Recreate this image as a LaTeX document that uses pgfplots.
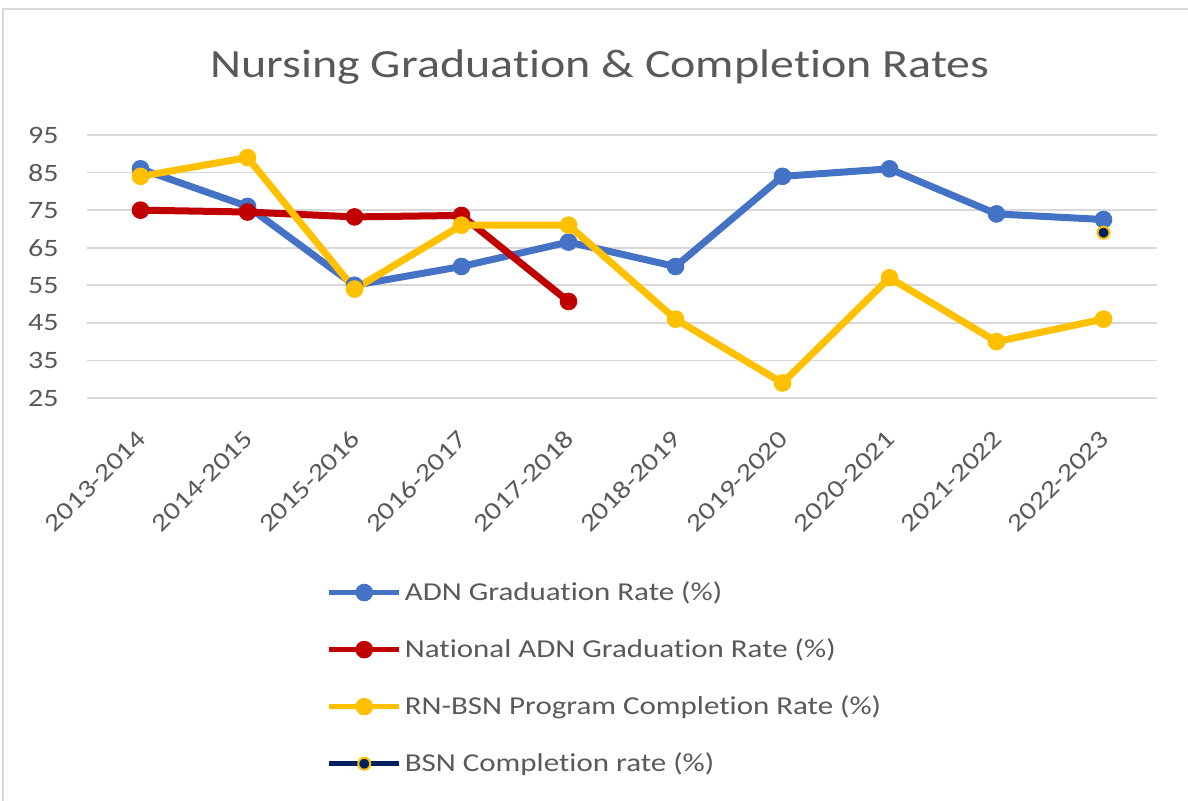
\documentclass[border=0pt]{standalone}
\usepackage{fontspec}
\setmainfont{Carlito}[FakeStretch=1.2, Ligatures=NoCommon]
\usepackage{pgfplots}
\pgfplotsset{compat=1.18}
\definecolor{adnblue}{HTML}{4472C4}
\definecolor{natred}{HTML}{C00000}
\definecolor{rnyellow}{HTML}{FFC000}
\definecolor{bsnnavy}{HTML}{002060}
\definecolor{txtgray}{HTML}{595959}
\definecolor{gridgray}{HTML}{D9D9D9}

\begin{document}
\begin{tikzpicture}
% page = 1188 x 801 px at 0.5pt per px
\useasboundingbox (0pt,0pt) rectangle (594pt,-400.5pt);
\draw[gridgray, line width=1.2pt] (1.5pt,-401pt) -- (1.5pt,-4.5pt) -- (595pt,-4.5pt);
\node[text=txtgray, font=\fontsize{20}{24}\selectfont] at (300pt,-33.5pt) {Nursing Graduation \& Completion Rates};
\begin{axis}[
  at={(43.5pt,-199pt)}, anchor=south west,
  scale only axis, width=535pt, height=131.5pt,
  xmin=-0.5, xmax=9.5, ymin=25, ymax=95,
  xtick={0,...,9},
  xticklabels={2013-2014,2014-2015,2015-2016,2016-2017,2017-2018,2018-2019,2019-2020,2020-2021,2021-2022,2022-2023},
  ytick={25,35,...,95},
  axis line style={draw=none},
  major tick length=0pt,
  ymajorgrids, grid style={gridgray, line width=0.9pt},
  tick label style={text=txtgray, font=\fontsize{12.5}{15}\selectfont},
  /pgf/number format/assume math mode=true,
  xticklabel style={rotate=45, anchor=east, inner sep=0pt, xshift=1pt},
  xticklabel shift=19pt,
  yticklabel style={inner sep=0pt},
  yticklabel shift=14pt,
  clip=false,
  legend style={at={(0.218,-0.670)}, anchor=north west, draw=none, fill=none,
    font=\fontsize{12.9}{15}\selectfont, text=txtgray,
    row sep=14.6pt, nodes={inner sep=1.5pt}, legend cell align=left},
  legend image code/.code={\draw[mark repeat=2, mark phase=2, #1, line width=2.6pt]
     plot coordinates {(0pt,0pt)(17.5pt,0pt)(35pt,0pt)};},
]
\addplot[adnblue, line width=3.5pt, mark=*, mark size=4.2pt,
  mark options={line width=0.4pt, fill=adnblue}] coordinates {
  (0,86)(1,76)(2,55)(3,60)(4,66.5)(5,60)(6,84)(7,86)(8,74)(9,72.5)};
\addlegendentry{ADN Graduation Rate (\%)}
\addplot[natred, line width=3.5pt, mark=*, mark size=4.2pt,
  mark options={line width=0.4pt, fill=natred}] coordinates {
  (0,75)(1,74.5)(2,73.2)(3,73.6)(4,50.7)};
\addlegendentry{National ADN Graduation Rate (\%)}
\addplot[rnyellow, line width=3.5pt, mark=*, mark size=4.2pt,
  mark options={line width=0.4pt, fill=rnyellow}] coordinates {
  (0,84)(1,89)(2,54)(3,71)(4,71)(5,46)(6,29)(7,57)(8,40)(9,46)};
\addlegendentry{RN-BSN Program Completion Rate (\%)}
\addplot[bsnnavy, line width=3.5pt, mark=*, mark size=3pt,
  mark options={line width=1pt, draw=rnyellow, fill=bsnnavy}] coordinates {
  (9,69)};
\addlegendentry{BSN Completion rate (\%)}
\end{axis}
\end{tikzpicture}
\end{document}
